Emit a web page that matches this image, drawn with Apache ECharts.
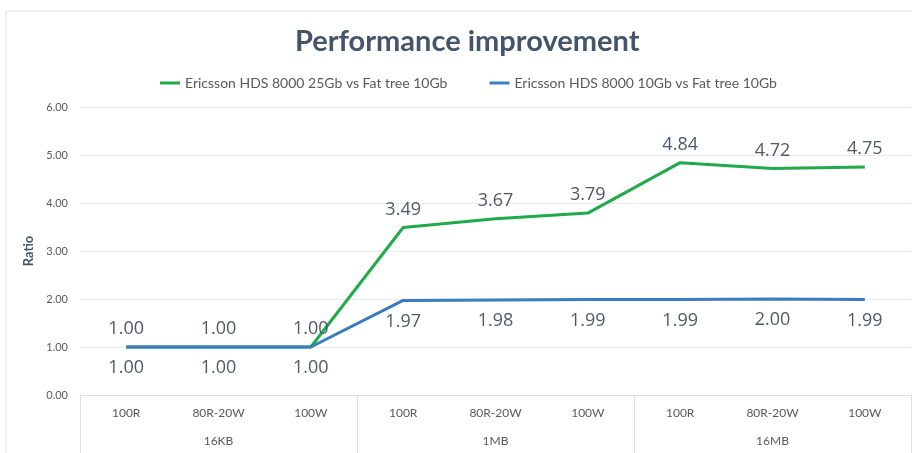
<!DOCTYPE html>
<html>
<head>
<meta charset="utf-8">
<style>
  html, body { margin: 0; padding: 0; background: #fff; }
  #chart { width: 912px; height: 453px; }
</style>
<script src="https://cdn.jsdelivr.net/npm/echarts@6/dist/echarts.min.js"></script>
</head>
<body>
<div id="chart"></div>
<script>
// Values.
const workloads = ['100R', '80R-20W', '100W', '100R', '80R-20W', '100W', '100R', '80R-20W', '100W'];
const blockSizes = ['16KB', '1MB', '16MB'];
const hds25Values = [1.00, 1.00, 1.00, 3.49, 3.67, 3.79, 4.84, 4.72, 4.75];
const hds10Values = [1.00, 1.00, 1.00, 1.97, 1.98, 1.99, 1.99, 2.00, 1.99];
const seriesNames = ['Ericsson HDS 8000 25Gb vs Fat tree 10Gb', 'Ericsson HDS 8000 10Gb vs Fat tree 10Gb'];

const textColor = '#595959';
const labelColor = '#505a68';
const fontFamily = 'Lato, "Open Sans", sans-serif';

const chart = echarts.init(document.getElementById('chart'), null, { renderer: 'canvas' });

chart.setOption({
  animation: false,
  backgroundColor: '#fff',
  title: {
    text: 'Performance improvement',
    left: 290,
    top: 22,
    textStyle: { fontFamily: fontFamily, fontSize: 29, fontWeight: 'bold', color: '#44546a' }
  },
  legend: {
    top: 71,
    left: 155,
    itemWidth: 20,
    itemHeight: 3,
    itemGap: 42,
    icon: 'rect',
    textStyle: { fontFamily: fontFamily, fontSize: 14, color: textColor },
    data: seriesNames
  },
  // thin frame of the chart area, as in the reference
  graphic: [{
    type: 'rect',
    shape: { x: 6, y: 11, width: 940, height: 480 },
    style: { fill: 'none', stroke: '#dcdfe4', lineWidth: 1 },
    silent: true
  }],
  grid: { left: 80, right: 1, top: 107, bottom: 58 },
  xAxis: [{
    type: 'category',
    data: workloads,
    boundaryGap: true,
    axisLine: { lineStyle: { color: '#dcdfe4' } },
    axisTick: { show: false },
    axisLabel: { interval: 0, margin: 12, fontFamily: fontFamily, fontSize: 12, color: textColor }
  }, {
    type: 'category',
    data: blockSizes,
    position: 'bottom',
    boundaryGap: true,
    axisLine: { show: false },
    axisTick: { show: true, interval: 0, length: 58, lineStyle: { color: '#dcdfe4' } },
    axisLabel: { interval: 0, margin: 40, fontFamily: fontFamily, fontSize: 12, color: textColor }
  }],
  yAxis: {
    type: 'value',
    min: 0,
    max: 6,
    interval: 1,
    name: 'Ratio',
    nameLocation: 'middle',
    nameRotate: 90,
    nameGap: 38,
    nameTextStyle: { fontFamily: fontFamily, fontSize: 13, fontWeight: 'bold', color: '#44546a' },
    axisLine: { show: false },
    axisTick: { show: false },
    axisLabel: {
      margin: 12,
      fontFamily: fontFamily,
      fontSize: 11,
      color: textColor,
      formatter: v => v.toFixed(2)
    },
    splitLine: { lineStyle: { color: '#e8ebef' } }
  },
  series: [{
    name: seriesNames[0],
    type: 'line',
    data: hds25Values,
    symbol: 'circle',
    symbolSize: 0,
    showSymbol: true,
    color: '#1faa4b',
    lineStyle: { width: 3, color: '#1faa4b' },
    label: {
      show: true,
      position: 'top',
      distance: 9,
      fontFamily: '"Open Sans", sans-serif',
      fontSize: 18,
      color: labelColor,
      formatter: p => p.value.toFixed(2)
    },
    z: 2
  }, {
    name: seriesNames[1],
    type: 'line',
    data: hds10Values,
    symbol: 'circle',
    symbolSize: 0,
    showSymbol: true,
    color: '#3a7cc0',
    lineStyle: { width: 3, color: '#3a7cc0' },
    label: {
      show: true,
      position: 'bottom',
      distance: 12,
      fontFamily: '"Open Sans", sans-serif',
      fontSize: 18,
      color: labelColor,
      formatter: p => p.value.toFixed(2)
    },
    z: 3
  }]
});
</script>
</body>
</html>
